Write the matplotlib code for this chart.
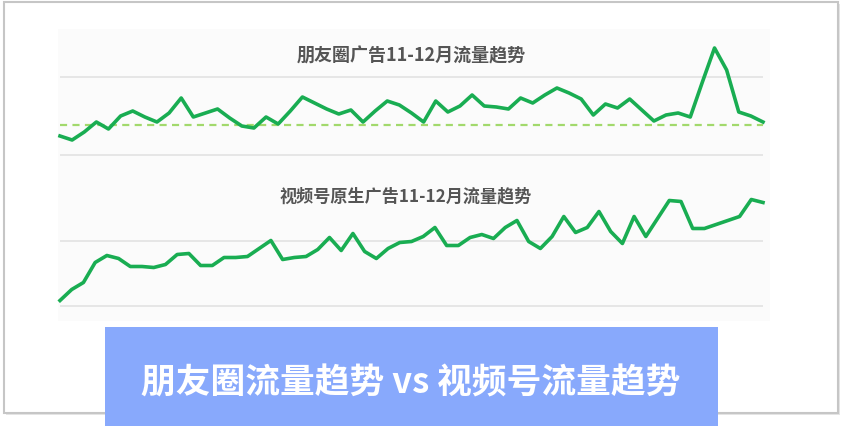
import matplotlib
matplotlib.use("Agg")
import matplotlib.pyplot as plt
from matplotlib.patches import Rectangle

plt.rcParams['font.family'] = ['Noto Sans CJK SC', 'DejaVu Sans']

# 数据（从图上估读，单位任意）
pyq_title = "朋友圈广告11-12月流量趋势"
pyq_values = [19, 15, 23, 33, 26, 39, 44, 38, 33, 42, 57, 38, 42, 46, 37, 29, 27, 38, 31, 44,
              58, 52, 46, 41, 45, 33, 44, 54, 50, 42, 33, 54, 43, 49, 60, 49, 48, 46, 57, 52,
              60, 67, 62, 56, 40, 51, 47, 56, 45, 34, 40, 42, 38, 73, 107, 85, 43, 39, 33]
pyq_baseline = 30.5
pyq_grid = [0, 78]

sph_title = "视频号原生广告11-12月流量趋势"
sph_values = [5, 16, 23, 43, 50, 47, 39, 39, 38, 41, 51, 52, 40, 40, 48, 48, 49, 57, 65, 46,
              48, 49, 56, 68, 55, 72, 54, 47, 57, 63, 64, 69, 78, 60, 60, 68, 71, 67, 78, 85,
              64, 57, 69, 89, 73, 78, 94, 74, 62, 89, 69, 87, 105, 104, 77, 77, 81, 85, 89, 106,
              103]
sph_grid = [0, 65]

banner_text = "朋友圈流量趋势 vs 视频号流量趋势"

W, H = 841, 427
GREEN = '#19ad52'
LIGHT_GREEN = '#a2d96c'
GRID = '#e2e2e2'


def box(x0, y0, x1, y1):
    # 像素坐标 -> figure 坐标
    return [x0 / W, 1 - y1 / H, (x1 - x0) / W, (y1 - y0) / H]


def setup(ax, n, ylim, grid):
    ax.set_xlim(0, n - 1)
    ax.set_ylim(*ylim)
    ax.set_yticks(grid)
    ax.set_xticks([])
    ax.set_yticklabels([])
    ax.tick_params(length=0)
    ax.grid(axis='y', color=GRID, lw=1.2)
    ax.set_axisbelow(True)
    for s in ax.spines.values():
        s.set_visible(False)
    ax.patch.set_alpha(0)


fig = plt.figure(figsize=(8.41, 4.27), dpi=100)

# 外框
fig.patches.append(Rectangle((6 / W, 1 - 416 / H), 834 / W, 411 / H, transform=fig.transFigure,
                             facecolor='#e6e6e6', edgecolor='none', zorder=-3))
fig.patches.append(Rectangle((4 / W, 1 - 414 / H), 834 / W, 411 / H, transform=fig.transFigure,
                             facecolor='white', edgecolor='#c6c6c6', lw=1.5, zorder=-2))
# 图表底色
fig.patches.append(Rectangle((58 / W, 1 - 322 / H), 712 / W, 292 / H, transform=fig.transFigure,
                             facecolor='#fbfbfb', edgecolor='none', zorder=-1))

# 朋友圈
ax1 = fig.add_axes(box(60, 40, 763, 160))
setup(ax1, len(pyq_values), (-4, 116), pyq_grid)
ax1.axhline(pyq_baseline, color=LIGHT_GREEN, lw=1.6, dashes=(3.2, 2.4))
ax1.plot(range(len(pyq_values)), pyq_values, color=GREEN, lw=2.6, clip_on=False)
fig.text(411 / W, 1 - 56 / H, pyq_title, ha='center', va='center', fontsize=13,
         fontweight='bold', color='#555555')

# 视频号
ax2 = fig.add_axes(box(60, 190, 763, 312))
setup(ax2, len(sph_values), (-5.5, 116.5), sph_grid)
ax2.plot(range(len(sph_values)), sph_values, color=GREEN, lw=2.6, clip_on=False)
fig.text(406 / W, 1 - 196 / H, sph_title, ha='center', va='center', fontsize=12.3,
         fontweight='bold', color='#555555')

# 底部横幅
fig.patches.append(Rectangle((105 / W, 0), 613 / W, (427 - 328) / H, transform=fig.transFigure,
                             facecolor='#88a9fc', edgecolor='none', zorder=5))
fig.text(411 / W, 1 - 383 / H, banner_text, ha='center', va='center', fontsize=25,
         fontweight='bold', color='white', zorder=6)

fig.savefig('out.png', dpi=100)
